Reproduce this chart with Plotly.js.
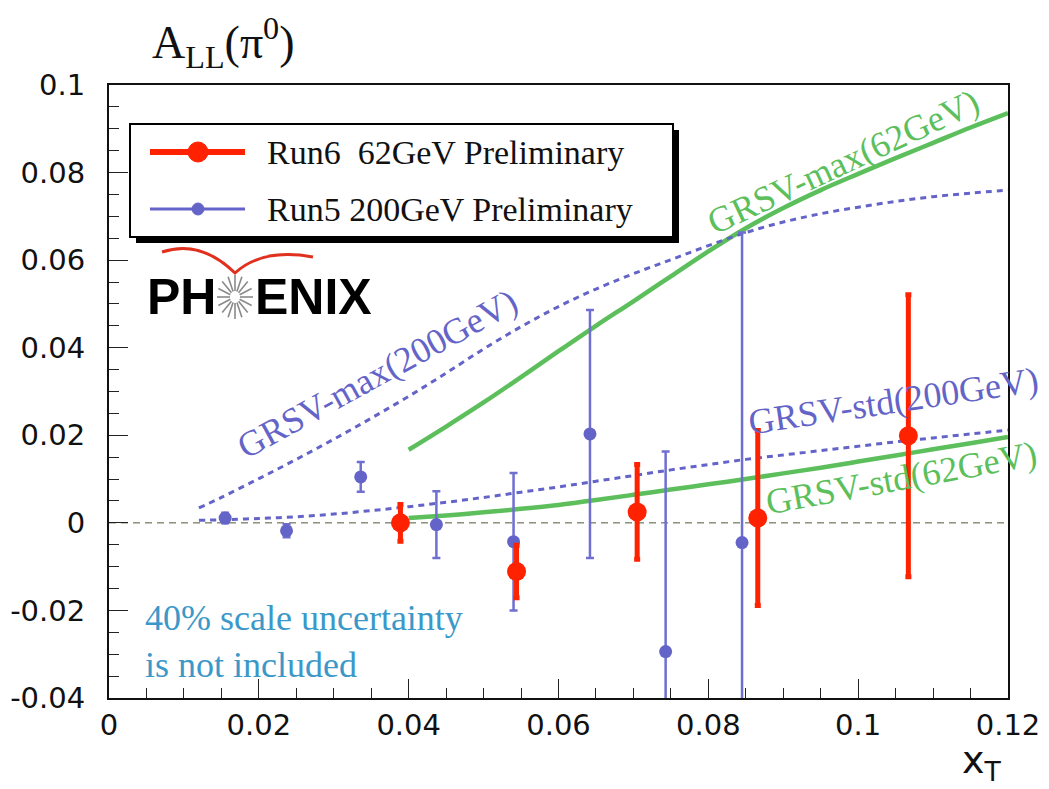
<!DOCTYPE html>
<html>
<head>
<meta charset="utf-8">
<script src="https://cdn.plot.ly/plotly-3.0.1.min.js"></script>
<style>html,body{margin:0;padding:0;background:#fff;}#chart{width:1049px;height:789px;}</style>
</head>
<body>
<div id="chart"></div>
<script>
// ---- data ----
const run6_x   = [0.0389, 0.0544, 0.0705, 0.0866, 0.1067];
const run6_y   = [0.0000, -0.0111, 0.0025, 0.0011, 0.0199];
const run6_err = [0.0042, 0.0060, 0.0108, 0.0200, 0.0322];

const run5_x   = [0.0155, 0.0237, 0.0336, 0.0437, 0.0540, 0.0642, 0.0743, 0.0845];
const run5_y   = [0.0011, -0.0018, 0.0105, -0.0004, -0.0043, 0.0203, -0.0294, -0.0045];
const run5_err = [0.0012, 0.0015, 0.0034, 0.0076, 0.0157, 0.0283, 0.0457, 0.0708];

const maxStd200_x = [0.012, 0.015, 0.020, 0.025, 0.030, 0.035, 0.040, 0.045, 0.050, 0.055, 0.060, 0.065, 0.070, 0.075, 0.080, 0.085, 0.090, 0.095, 0.100, 0.105, 0.110, 0.115, 0.120];
const grsvMax200_y = [0.0034, 0.0058, 0.0101, 0.0145, 0.0191, 0.0239, 0.0289, 0.0342, 0.0397, 0.0448, 0.0494, 0.0534, 0.0569, 0.0601, 0.0633, 0.0663, 0.0687, 0.0706, 0.0721, 0.0734, 0.0745, 0.0753, 0.0760];
const grsvStd200_y = [0.0006, 0.0007, 0.0010, 0.0014, 0.0020, 0.0028, 0.0037, 0.0047, 0.0058, 0.0070, 0.0082, 0.0095, 0.0108, 0.0121, 0.0133, 0.0145, 0.0155, 0.0165, 0.0175, 0.0185, 0.0194, 0.0203, 0.0212];

const curve62_x   = [0.040, 0.045, 0.050, 0.055, 0.060, 0.065, 0.070, 0.075, 0.080, 0.085, 0.090, 0.095, 0.100, 0.105, 0.110, 0.115, 0.120];
const grsvMax62_y = [0.0167, 0.0220, 0.0275, 0.0333, 0.0392, 0.0450, 0.0506, 0.0563, 0.0620, 0.0673, 0.0719, 0.0760, 0.0797, 0.0833, 0.0868, 0.0903, 0.0936];
const grsvStd62_y = [0.0011, 0.0017, 0.0024, 0.0032, 0.0041, 0.0052, 0.0064, 0.0076, 0.0088, 0.0100, 0.0113, 0.0126, 0.0140, 0.0154, 0.0168, 0.0182, 0.0196];

const xTickVals = [0, 0.02, 0.04, 0.06, 0.08, 0.1, 0.12];
const xTickText = ['0', '0.02', '0.04', '0.06', '0.08', '0.1', '0.12'];
const yTickVals = [-0.04, -0.02, 0, 0.02, 0.04, 0.06, 0.08, 0.1];
const yTickText = ['-0.04', '-0.02', '0', '0.02', '0.04', '0.06', '0.08', '0.1'];

const legendLabels = ['Run6  62GeV Preliminary', 'Run5 200GeV Preliminary'];
const curveLabels = ['GRSV-max(200GeV)', 'GRSV-max(62GeV)', 'GRSV-std(200GeV)', 'GRSV-std(62GeV)'];

// ---- layout helpers (pixel -> paper) ----
const W = 1049, H = 789, L = 109, R = 1008, T = 85, B = 698;
const px = x => (x - L) / (R - L);
const py = y => (B - y) / (B - T);

const RED = '#ff2200', BLUE = '#6464c8', GREEN = '#5cbf5c', TEAL = '#3b98c8';

const traces = [
  {x: curve62_x, y: grsvStd62_y, mode: 'lines', line: {color: GREEN, width: 4.5, shape: 'spline', smoothing: 1}, hoverinfo: 'skip'},
  {x: curve62_x, y: grsvMax62_y, mode: 'lines', line: {color: GREEN, width: 4.5, shape: 'spline', smoothing: 1}, hoverinfo: 'skip'},
  {x: maxStd200_x, y: grsvStd200_y, mode: 'lines', line: {color: BLUE, width: 3, dash: '6px,5px', shape: 'spline', smoothing: 1}, hoverinfo: 'skip'},
  {x: maxStd200_x, y: grsvMax200_y, mode: 'lines', line: {color: BLUE, width: 3, dash: '6px,5px', shape: 'spline', smoothing: 1}, hoverinfo: 'skip'},
  {x: run5_x, y: run5_y, mode: 'markers', name: legendLabels[1],
   marker: {color: BLUE, size: 13},
   error_y: {type: 'data', array: run5_err, visible: true, color: '#6f6fd2', thickness: 2.5, width: 4}},
  {x: run6_x, y: run6_y, mode: 'markers', name: legendLabels[0],
   marker: {color: RED, size: 19},
   error_y: {type: 'data', array: run6_err, visible: true, color: RED, thickness: 5, width: 3}}
];

const shapes = [];
// zero reference line
shapes.push({type: 'line', xref: 'paper', yref: 'y', x0: 0, x1: 1, y0: 0, y1: 0, layer: 'below',
  line: {color: '#55553a', width: 1, dash: '7px,5px'}});
// legend box with shadow
shapes.push({type: 'rect', xref: 'paper', yref: 'paper', x0: px(136), x1: px(679), y0: py(130), y1: py(243),
  fillcolor: '#000', line: {width: 0}});
shapes.push({type: 'rect', xref: 'paper', yref: 'paper', x0: px(130), x1: px(673), y0: py(124), y1: py(237),
  fillcolor: '#fff', line: {color: '#000', width: 2}});
// legend symbols
shapes.push({type: 'line', xref: 'paper', yref: 'paper', x0: px(150), x1: px(245), y0: py(152), y1: py(152), line: {color: RED, width: 6}});
shapes.push({type: 'circle', xref: 'paper', yref: 'paper', x0: px(188), x1: px(208), y0: py(142), y1: py(162), fillcolor: RED, line: {color: RED, width: 1}});
shapes.push({type: 'line', xref: 'paper', yref: 'paper', x0: px(150), x1: px(245), y0: py(209), y1: py(209), line: {color: BLUE, width: 3}});
shapes.push({type: 'circle', xref: 'paper', yref: 'paper', x0: px(192), x1: px(204), y0: py(203), y1: py(215), fillcolor: BLUE, line: {color: BLUE, width: 1}});
// PHENIX logo: red arc
const pth = pts => pts.map(p => (typeof p === 'string') ? p : px(p[0]).toFixed(5) + ',' + py(p[1]).toFixed(5)).join(' ');
shapes.push({type: 'path', xref: 'paper', yref: 'paper',
  path: pth(['M', [162, 252], 'Q', [200, 239], [235, 273], 'Q', [262, 248], [313, 257]]),
  line: {color: '#e0301e', width: 3}});
// PHENIX logo: starburst
for (let k = 0; k < 16; k++) {
  const a = k * Math.PI / 8;
  const cx = 235, cy = 297;
  shapes.push({type: 'line', xref: 'paper', yref: 'paper',
    x0: px(cx + 5 * Math.cos(a)), y0: py(cy + 6 * Math.sin(a)),
    x1: px(cx + 18 * Math.cos(a)), y1: py(cy + 22 * Math.sin(a)),
    line: {color: '#8a8a8a', width: 1.6}});
}

const serif = 'Liberation Serif, Times New Roman, serif';
const annotations = [
  {text: legendLabels[0], x: px(265), y: py(152), xanchor: 'left', yanchor: 'middle'},
  {text: legendLabels[1], x: px(265), y: py(209), xanchor: 'left', yanchor: 'middle'},
].map(a => Object.assign(a, {xref: 'paper', yref: 'paper', showarrow: false, font: {family: serif, size: 34, color: '#111'}}));

annotations.push(
  {text: '<b>PH</b>', x: px(145), y: py(297), xanchor: 'left', yanchor: 'middle', font: {family: 'Liberation Sans, Arial, sans-serif', size: 50, color: '#000'}},
  {text: '<b>ENIX</b>', x: px(253), y: py(297), xanchor: 'left', yanchor: 'middle', font: {family: 'Liberation Sans, Arial, sans-serif', size: 50, color: '#000'}},
  {text: curveLabels[0], x: px(377), y: py(374), textangle: -28.7, font: {family: serif, size: 36, color: BLUE}},
  {text: curveLabels[1], x: px(843), y: py(162), textangle: -25, font: {family: serif, size: 36, color: GREEN}},
  {text: curveLabels[2], x: px(893), y: py(401), textangle: -8.5, font: {family: serif, size: 36, color: BLUE}},
  {text: curveLabels[3], x: px(901), y: py(478), textangle: -10.4, font: {family: serif, size: 36, color: GREEN}},
  {text: '40% scale uncertainty<br>is not included', x: px(143), y: py(641), xanchor: 'left', yanchor: 'middle', align: 'left',
   font: {family: serif, size: 36, color: TEAL}},
  {text: 'x<sub>T</sub>', x: px(1004), y: py(762), xanchor: 'right', yanchor: 'middle', font: {family: 'DejaVu Sans, sans-serif', size: 38, color: '#111'}}
);
annotations.forEach(a => { a.xref = 'paper'; a.yref = 'paper'; a.showarrow = false; if (!a.xanchor) { a.xanchor = 'center'; a.yanchor = 'middle'; } });

const tickFont = {family: 'DejaVu Sans, Verdana, sans-serif', size: 29, color: '#111'};
const layout = {
  width: W, height: H,
  margin: {l: L, r: W - R, t: T, b: H - B},
  paper_bgcolor: '#fff', plot_bgcolor: '#fff',
  showlegend: false,
  title: {text: 'A<sub>LL</sub>(π<sup>0</sup>)', font: {family: serif, size: 46, color: '#111'},
          x: 152 / W, xanchor: 'left', xref: 'container', y: 1 - 42 / H, yanchor: 'middle', yref: 'container'},
  xaxis: {range: [0, 0.12], tickmode: 'array', tickvals: xTickVals, ticktext: xTickText,
          ticks: 'inside', ticklen: 19, tickwidth: 1, tickcolor: '#222',
          minor: {tickmode: 'linear', tick0: 0, dtick: 0.005, ticks: 'inside', ticklen: 10, tickwidth: 1, tickcolor: '#222'},
          showline: true, linecolor: '#111', linewidth: 2, mirror: true, showgrid: false, zeroline: false,
          tickfont: tickFont, ticklabelstandoff: 0, fixedrange: true},
  yaxis: {range: [-0.04, 0.1], tickmode: 'array', tickvals: yTickVals, ticktext: yTickText,
          ticks: 'inside', ticklen: 19, tickwidth: 1, tickcolor: '#222',
          minor: {tickmode: 'linear', tick0: 0, dtick: 0.005, ticks: 'inside', ticklen: 10, tickwidth: 1, tickcolor: '#222'},
          showline: true, linecolor: '#111', linewidth: 2, mirror: true, showgrid: false, zeroline: false,
          tickfont: tickFont, ticklabelstandoff: 16, fixedrange: true},
  shapes: shapes,
  annotations: annotations
};

Plotly.newPlot('chart', traces, layout, {displayModeBar: false, staticPlot: true});
</script>
</body>
</html>
